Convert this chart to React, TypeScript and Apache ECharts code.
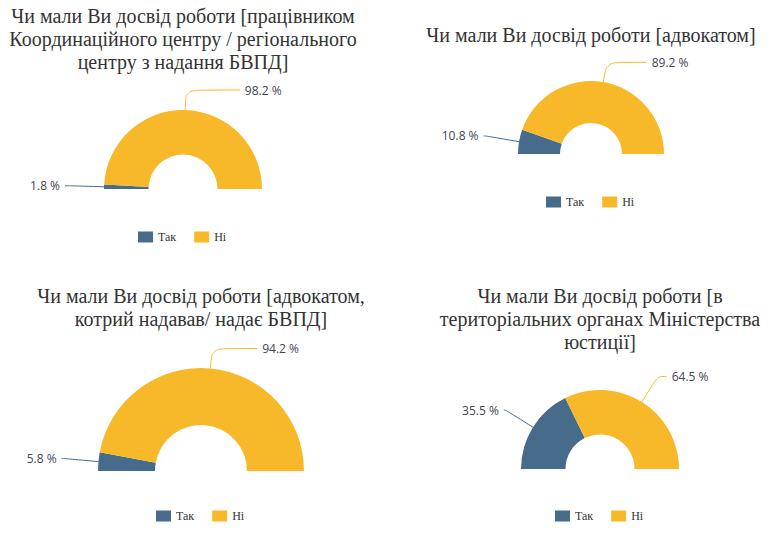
import React, { useEffect, useRef } from "react";
import * as echarts from "echarts";

// Survey answers: share of respondents (%) per question
const answerNames = ["Так", "Ні"];
const questionTitles = [
  "Чи мали Ви досвід роботи [працівником\nКоординаційного центру / регіонального\nцентру з надання БВПД]",
  "Чи мали Ви досвід роботи [адвокатом]",
  "Чи мали Ви досвід роботи [адвокатом,\nкотрий надавав/ надає БВПД]",
  "Чи мали Ви досвід роботи [в\nтериторіальних органах Міністерства\nюстиції]",
];
const yesShares = [1.8, 10.8, 5.8, 35.5];
const noShares = [98.2, 89.2, 94.2, 64.5];

const COLORS = ["#466b8b", "#f7b92a"];

// Placement of each small chart: pie center, radii, title top, legend row
const panels = [
  { cx: 183, cy: 189, r0: 34.5, r1: 79, titleTop: 4, legendY: 237,
    lines: [[35, 4], [20, 54]] },
  { cx: 591, cy: 154, r0: 31, r1: 73, titleTop: 23, legendY: 202,
    lines: [[34, 2], [20, 40]] },
  { cx: 201, cy: 471, r0: 46, r1: 103, titleTop: 284, legendY: 516,
    lines: [[35, 2], [20, 45]] },
  { cx: 600, cy: 469, r0: 34.5, r1: 79, titleTop: 284, legendY: 516,
    lines: [[32, 2], [30, 9]] },
];

export default function App() {
  const ref = useRef<HTMLDivElement>(null);

  useEffect(() => {
    if (!ref.current) return;
    const chart = echarts.init(ref.current, null, { renderer: "svg" });

    const title = panels.map((p, i) => ({
      text: questionTitles[i],
      left: p.cx,
      top: p.titleTop,
      textAlign: "center",
      padding: 0,
      textStyle: {
        fontFamily: "Liberation Serif",
        fontSize: 20,
        fontWeight: "normal",
        color: "#333333",
        lineHeight: 23,
      },
    }));

    const legend = panels.map((p) => ({
      data: answerNames,
      left: p.cx - 45,
      top: p.legendY - 6,
      orient: "horizontal",
      padding: 0,
      icon: "rect",
      itemWidth: 15,
      itemHeight: 11,
      itemGap: 18,
      textStyle: {
        fontFamily: "Liberation Serif",
        fontSize: 12,
        color: "#333333",
      },
    }));

    const series = panels.map((p, i) => ({
      type: "pie",
      center: [p.cx, p.cy],
      radius: [p.r0, p.r1],
      startAngle: 180,
      endAngle: 360,
      clockwise: true,
      avoidLabelOverlap: false,
      label: {
        show: true,
        formatter: (params: any) => `${params.value} %`,
        fontFamily: "Open Sans",
        fontSize: 12,
        color: "#3f4552",
        padding: [5, 0, 0, 0],
      },
      emphasis: { scale: false },
      data: [
        {
          name: answerNames[0],
          value: yesShares[i],
          labelLine: { length: p.lines[0][0], length2: p.lines[0][1], smooth: 0.3 },
        },
        {
          name: answerNames[1],
          value: noShares[i],
          labelLine: { length: p.lines[1][0], length2: p.lines[1][1], smooth: 0.3 },
        },
      ],
    }));

    chart.setOption({
      animation: false,
      color: COLORS,
      title,
      legend,
      series,
    });

    return () => chart.dispose();
  }, []);

  return (
    <div
      ref={ref}
      style={{ position: "absolute", left: 0, top: 0, width: 781, height: 544, background: "#ffffff" }}
    />
  );
}
